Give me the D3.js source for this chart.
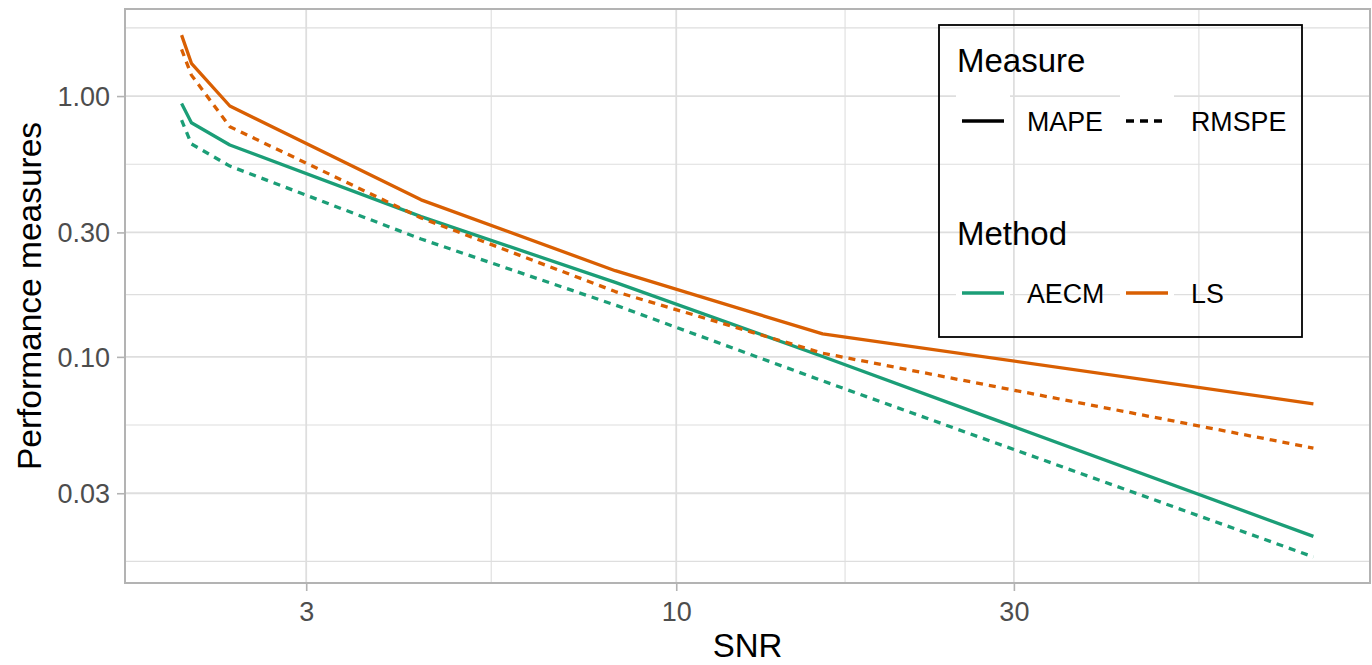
<!DOCTYPE html>
<html>
<head>
<meta charset="utf-8">
<script src="https://cdn.jsdelivr.net/npm/d3@7"></script>
<style>
  html, body { margin: 0; padding: 0; background: #fff; }
  svg { display: block; font-family: "Liberation Sans", Arial, sans-serif; }
</style>
</head>
<body>
<svg id="chart" width="1372" height="665"></svg>
<script>
// ---- data ----
const snr = [2, 2.065, 2.34, 4.36, 8.2, 16.1, 79.5];
const lsMAPE    = [1.713, 1.335, 0.916, 0.400, 0.214, 0.1225, 0.0661];
const lsRMSPE   = [1.509, 1.203, 0.763, 0.341, 0.178, 0.1033, 0.0447];
const aecmMAPE  = [0.937, 0.790, 0.649, 0.345, 0.193, 0.1003, 0.0205];
const aecmRMSPE = [0.809, 0.655, 0.539, 0.283, 0.158, 0.0809, 0.0171];
const xTicks = [3, 10, 30];
const yTicks = [0.03, 0.1, 0.3, 1];
const methods = ["AECM", "LS"];
const measures = ["MAPE", "RMSPE"];

const series = [
  { method: "AECM", measure: "MAPE",  values: aecmMAPE },
  { method: "AECM", measure: "RMSPE", values: aecmRMSPE },
  { method: "LS",   measure: "MAPE",  values: lsMAPE },
  { method: "LS",   measure: "RMSPE", values: lsRMSPE }
];

const colors = { AECM: "#1B9E77", LS: "#D95F02" };
const dashes = { MAPE: null, RMSPE: "7,6" };

const panel = { left: 125, right: 1370, top: 9, bottom: 583 };
const svg = d3.select("#chart");

// ggplot-like 5% expansion in log space
function expandedLog(vals) {
  const lo = Math.log10(d3.min(vals)), hi = Math.log10(d3.max(vals));
  const e = (hi - lo) * 0.05;
  return [Math.pow(10, lo - e), Math.pow(10, hi + e)];
}
const allY = [].concat(lsMAPE, lsRMSPE, aecmMAPE, aecmRMSPE);
const x = d3.scaleLog().domain(expandedLog(snr)).range([panel.left, panel.right]);
const y = d3.scaleLog().domain(expandedLog(allY)).range([panel.bottom, panel.top]);

// minor breaks: midpoints in log space, extended by first major spacing
function minorBreaks(major, scale) {
  const b = major.map(Math.log10);
  const bd = b[1] - b[0];
  const [d0, d1] = scale.domain().map(Math.log10);
  const ext = b.slice();
  if (d0 < b[0]) ext.unshift(b[0] - bd);
  if (d1 > b[b.length - 1]) ext.push(b[b.length - 1] + bd);
  const out = [];
  for (let i = 0; i < ext.length - 1; i++) out.push(Math.pow(10, (ext[i] + ext[i + 1]) / 2));
  return out.filter(v => v >= scale.domain()[0] && v <= scale.domain()[1]);
}

const grid = svg.append("g");
const gridColor = "#DEDEDE";
minorBreaks(xTicks, x).forEach(v => grid.append("line")
  .attr("x1", x(v)).attr("x2", x(v)).attr("y1", panel.top).attr("y2", panel.bottom)
  .attr("stroke", gridColor).attr("stroke-width", 1.1));
minorBreaks(yTicks, y).forEach(v => grid.append("line")
  .attr("x1", panel.left).attr("x2", panel.right).attr("y1", y(v)).attr("y2", y(v))
  .attr("stroke", gridColor).attr("stroke-width", 1.1));
xTicks.forEach(v => grid.append("line")
  .attr("x1", x(v)).attr("x2", x(v)).attr("y1", panel.top).attr("y2", panel.bottom)
  .attr("stroke", gridColor).attr("stroke-width", 1.8));
yTicks.forEach(v => grid.append("line")
  .attr("x1", panel.left).attr("x2", panel.right).attr("y1", y(v)).attr("y2", y(v))
  .attr("stroke", gridColor).attr("stroke-width", 1.8));

// data lines
const line = d3.line().x(d => x(d[0])).y(d => y(d[1]));
series.forEach(s => {
  svg.append("path")
    .datum(snr.map((v, i) => [v, s.values[i]]))
    .attr("d", line)
    .attr("fill", "none")
    .attr("stroke", colors[s.method])
    .attr("stroke-width", 3.3)
    .attr("stroke-dasharray", dashes[s.measure])
    .attr("stroke-linejoin", "round");
});

// panel border
svg.append("rect")
  .attr("x", panel.left).attr("y", panel.top)
  .attr("width", panel.right - panel.left).attr("height", panel.bottom - panel.top)
  .attr("fill", "none").attr("stroke", "#B3B3B3").attr("stroke-width", 2);

// axes
const xAxis = d3.axisBottom(x).tickValues(xTicks).tickFormat(d3.format("d")).tickSize(8).tickPadding(6);
const gx = svg.append("g").attr("transform", `translate(0,${panel.bottom})`).call(xAxis);
const yAxis = d3.axisLeft(y).tickValues(yTicks).tickFormat(d3.format(".2f")).tickSize(8).tickPadding(6);
const gy = svg.append("g").attr("transform", `translate(${panel.left},0)`).call(yAxis);
[gx, gy].forEach(g => {
  g.select(".domain").remove();
  g.selectAll(".tick line").attr("stroke", "#B3B3B3").attr("stroke-width", 1.6);
  g.selectAll(".tick text").attr("fill", "#4D4D4D")
    .style("font-size", "27px").style("font-family", "'Liberation Sans', Arial, sans-serif");
});
gx.selectAll(".tick text").attr("dy", null).attr("y", 38);
gy.selectAll(".tick text").attr("dy", "0.35em").attr("x", -15);

// axis titles
svg.append("text").attr("x", (panel.left + panel.right) / 2).attr("y", 657)
  .attr("text-anchor", "middle").style("font-size", "33px").attr("fill", "#000").text("SNR");
svg.append("text")
  .attr("transform", `translate(41,${(panel.top + panel.bottom) / 2}) rotate(-90)`)
  .attr("text-anchor", "middle").style("font-size", "33.5px").attr("fill", "#000")
  .text("Performance measures");

// legend
const lg = svg.append("g");
lg.append("rect").attr("x", 939).attr("y", 25).attr("width", 363).attr("height", 312)
  .attr("fill", "none").attr("stroke", "#000").attr("stroke-width", 1.8);

function legendBlock(title, titleY, rowY, items, colorFn, dashFn) {
  lg.append("text").attr("x", 957).attr("y", titleY).style("font-size", "33px")
    .attr("fill", "#000").text(title);
  const keyX = [956, 1120];
  items.forEach((it, i) => {
    lg.append("rect").attr("x", keyX[i]).attr("y", rowY - 27).attr("width", 54).attr("height", 54)
      .attr("fill", "#fff");
    lg.append("line").attr("x1", keyX[i] + 6).attr("x2", keyX[i] + 48)
      .attr("y1", rowY).attr("y2", rowY)
      .attr("stroke", colorFn(it)).attr("stroke-width", 3.3)
      .attr("stroke-dasharray", dashFn(it));
    lg.append("text").attr("x", keyX[i] + 71).attr("y", rowY + 10)
      .style("font-size", "26.8px").attr("fill", "#000").text(it);
  });
}
legendBlock("Measure", 72, 121, measures, () => "#000", m => dashes[m] ? "8,6" : null);
legendBlock("Method", 245, 293, methods, m => colors[m], () => null);
</script>
</body>
</html>
